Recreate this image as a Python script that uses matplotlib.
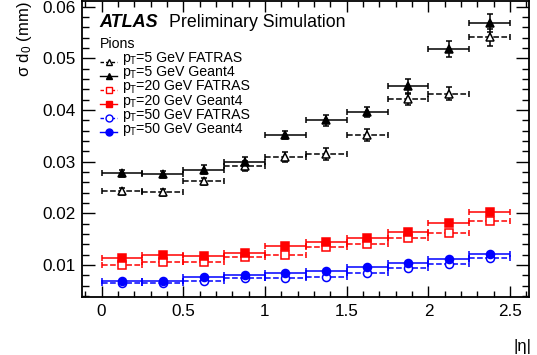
import matplotlib
matplotlib.use("Agg")
import matplotlib.pyplot as plt
from matplotlib.lines import Line2D
from matplotlib.ticker import MultipleLocator
import numpy as np

plt.rcParams['font.family'] = ['Liberation Sans', 'DejaVu Sans']
plt.rcParams['mathtext.fontset'] = 'custom'
plt.rcParams['mathtext.rm'] = 'Liberation Sans'
plt.rcParams['mathtext.it'] = 'Liberation Sans:italic'

# |eta| bins
eta_edges = [0.0, 0.25, 0.5, 0.75, 1.0, 1.25, 1.5, 1.75, 2.0, 2.25, 2.5]

# d0 resolution (mm) for pions
g4_5 = [0.0278, 0.0276, 0.0285, 0.0299, 0.0352, 0.0380, 0.0396, 0.0446, 0.0518, 0.0568]
g4_5_err = [0.0007, 0.0007, 0.0009, 0.0010, 0.0008, 0.0010, 0.0010, 0.0015, 0.0016, 0.0017]
fat_5 = [0.0243, 0.0241, 0.0262, 0.0292, 0.0309, 0.0315, 0.0352, 0.0421, 0.0432, 0.0541]
fat_5_err = [0.0007, 0.0007, 0.0007, 0.0009, 0.0010, 0.0012, 0.0012, 0.0012, 0.0013, 0.0016]
g4_20 = [0.0114, 0.0119, 0.0118, 0.0123, 0.0137, 0.0144, 0.0152, 0.0164, 0.0182, 0.0203]
g4_20_err = [0.0002, 0.0002, 0.0002, 0.0002, 0.0003, 0.0003, 0.0003, 0.0003, 0.0004, 0.0004]
fat_20 = [0.0101, 0.0106, 0.0106, 0.0115, 0.0119, 0.0135, 0.0141, 0.0152, 0.0163, 0.0186]
fat_20_err = [0.0002, 0.0002, 0.0002, 0.0002, 0.0003, 0.0003, 0.0003, 0.0003, 0.0004, 0.0004]
g4_50 = [0.0069, 0.0070, 0.0077, 0.0080, 0.0084, 0.0088, 0.0096, 0.0105, 0.0112, 0.0121]
g4_50_err = [0.0002, 0.0002, 0.0002, 0.0002, 0.0002, 0.0002, 0.0002, 0.0002, 0.0003, 0.0003]
fat_50 = [0.0065, 0.0066, 0.0069, 0.0076, 0.0076, 0.0077, 0.0084, 0.0094, 0.0103, 0.0114]
fat_50_err = [0.0002, 0.0002, 0.0002, 0.0002, 0.0002, 0.0002, 0.0002, 0.0002, 0.0003, 0.0003]

# legend entries: pT value and simulation
entry_pt = [5, 5, 20, 20, 50, 50]
entry_sim = ["FATRAS", "Geant4", "FATRAS", "Geant4", "FATRAS", "Geant4"]

edges = np.array(eta_edges)
centers = 0.5 * (edges[:-1] + edges[1:])
half_w = 0.5 * (edges[1:] - edges[:-1])

W, H = 537, 355
fig = plt.figure(figsize=(W / 100, H / 100), dpi=100)
ax = fig.add_axes([0.152, 0.163, 0.833, 0.834])

series = [
    (fat_5, fat_5_err, 'black', '^', False, '--'),
    (g4_5, g4_5_err, 'black', '^', True, '-'),
    (fat_20, fat_20_err, '#ff0000', 's', False, '--'),
    (g4_20, g4_20_err, '#ff0000', 's', True, '-'),
    (fat_50, fat_50_err, '#0000ff', 'o', False, '--'),
    (g4_50, g4_50_err, '#0000ff', 'o', True, '-'),
]

for vals, errs, col, mk, filled, ls in series:
    eb = ax.errorbar(centers, vals, xerr=half_w, yerr=errs, fmt=mk,
                     color=col, ecolor=col, elinewidth=1.1, capsize=2.2,
                     capthick=1.0, markersize=5.8,
                     markerfacecolor=col if filled else 'white',
                     markeredgecolor=col, markeredgewidth=1.1, zorder=3)
    for lc in eb[2]:
        lc.set_linestyle(ls)

ax.set_xlim(-0.122, 2.615)
ax.set_ylim(0.0038, 0.0611)
ax.xaxis.set_minor_locator(MultipleLocator(0.1))
ax.yaxis.set_minor_locator(MultipleLocator(0.002))
ax.set_xticks([0, 0.5, 1, 1.5, 2, 2.5])
ax.set_xticklabels(['0', '0.5', '1', '1.5', '2', '2.5'])
ax.set_yticks([0.01, 0.02, 0.03, 0.04, 0.05, 0.06])
ax.set_yticklabels(['0.01', '0.02', '0.03', '0.04', '0.05', '0.06'])

ax.tick_params(axis='both', which='both', direction='in', top=True, right=True,
               labelsize=12.3, width=1.0)
ax.tick_params(axis='y', which='major', length=9.5, pad=4)
ax.tick_params(axis='y', which='minor', length=4.8)
ax.tick_params(axis='x', which='major', length=8, pad=5)
ax.tick_params(axis='x', which='minor', length=4)
for sp in ax.spines.values():
    sp.set_linewidth(1.3)

ax.set_ylabel(r"σ d$_\mathregular{0}$ (mm)", fontsize=12, loc='top', labelpad=6)
ax.set_xlabel(r"|η|", fontsize=12, ha='right')
ax.xaxis.set_label_coords(1.005, -0.142)


def fx(px):
    return px / W


def fy(py):
    return 1 - py / H


fig.text(fx(99), fy(26.7), "ATLAS", fontsize=13, fontweight='bold',
         style='italic', va='baseline', ha='left')
fig.text(fx(169), fy(26.7), "Preliminary Simulation", fontsize=12.8,
         va='baseline', ha='left')

# legend block, each label set as "p" + subscript "T" + rest
renderer = fig.canvas.get_renderer()
fs = 10.2
fig.text(fx(99.5), fy(48.5), "Pions", fontsize=fs, va='baseline', ha='left')
row0, step = 62.0, 14.2
for i, ((vals, errs, col, mk, filled, ls), pt, sim) in enumerate(
        zip(series, entry_pt, entry_sim)):
    base = row0 + step * i
    ym = fy(base - 0.5)
    fig.add_artist(Line2D([fx(100), fx(117)], [ym, ym], transform=fig.transFigure,
                          color=col, linestyle=ls, linewidth=1.0,
                          dashes=(2.5, 1.5) if ls == '--' else (None, None)))
    fig.add_artist(Line2D([fx(108.5)], [ym], transform=fig.transFigure,
                          color=col, linestyle='none', marker=mk, markersize=5,
                          markerfacecolor=col if filled else 'white',
                          markeredgecolor=col, markeredgewidth=1.0))
    t1 = fig.text(fx(122), fy(base), "p", fontsize=fs, va='baseline', ha='left')
    x1 = t1.get_window_extent(renderer).x1
    t2 = fig.text(x1 / W, fy(base + 2.2), "T", fontsize=fs * 0.68,
                  va='baseline', ha='left')
    x2 = t2.get_window_extent(renderer).x1
    fig.text(x2 / W, fy(base), f"={pt} GeV {sim}", fontsize=fs,
             va='baseline', ha='left')

fig.savefig("out.png", dpi=100)
